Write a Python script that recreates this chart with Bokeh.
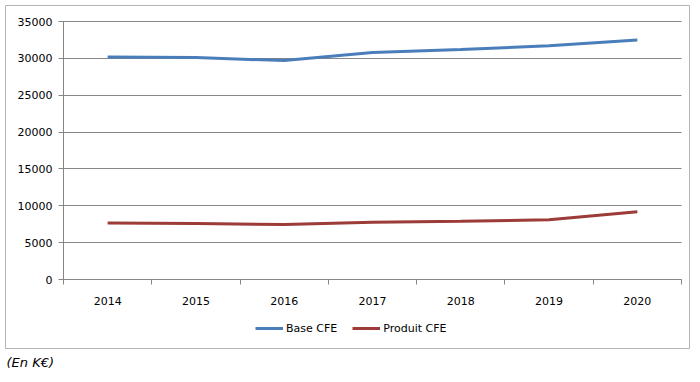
from bokeh.plotting import figure
from bokeh.models import (FixedTicker, Range1d, Legend, LegendItem, Title,
                          NumeralTickFormatter)
from bokeh.embed import file_html
from bokeh.resources import INLINE

years = ["2014", "2015", "2016", "2017", "2018", "2019", "2020"]
base_cfe = [30200, 30100, 29700, 30800, 31200, 31700, 32500]
produit_cfe = [7650, 7600, 7450, 7750, 7900, 8100, 9200]
y_ticks = [0, 5000, 10000, 15000, 20000, 25000, 30000, 35000]

FONT = "DejaVu Sans"
GRID = "#868686"
BOX = "#b4b4b4"

# layout (pixels): outer box = frame, inner plot area inside it
W, H = 700, 382
BOX_L, BOX_T, BOX_R, BOX_B = 5, 5, 689, 348
PL, PT, PR, PB = 63, 21, 681, 279

n = len(years)
x = list(range(n))
ymin, ymax = y_ticks[0], y_ticks[-1]
px_per_cat = (PR - PL) / n
px_per_val = (PB - PT) / (ymax - ymin)
x_start = -0.5 - (PL - BOX_L) / px_per_cat
x_end = n - 0.5 + (BOX_R - PR) / px_per_cat
y_start = ymin - (BOX_B - PB) / px_per_val
y_end = ymax + (PT - BOX_T) / px_per_val

p = figure(width=W, height=H, output_backend="svg", toolbar_location=None,
           x_range=Range1d(x_start, x_end), y_range=Range1d(y_start, y_end),
           min_border_left=BOX_L, min_border_right=W - BOX_R,
           min_border_top=BOX_T, min_border_bottom=H - BOX_B)
p.outline_line_color = BOX
p.outline_line_width = 1
p.background_fill_color = "white"
p.border_fill_color = "white"
p.xgrid.visible = False
p.ygrid.visible = False

r1 = p.line(x, base_cfe, line_color="#4a7ebb", line_width=3)
r2 = p.line(x, produit_cfe, line_color="#9c3b38", line_width=3)

xa = p.xaxis[0]
xa.fixed_location = ymin
xa.bounds = (-0.5, n - 0.5)
xa.ticker = FixedTicker(ticks=x, minor_ticks=[i - 0.5 for i in range(n + 1)])
xa.major_label_overrides = {i: y for i, y in enumerate(years)}
xa.major_tick_line_color = None
xa.major_tick_out = 0
xa.major_tick_in = 0
xa.minor_tick_out = 5
xa.minor_tick_in = 0
xa.minor_tick_line_color = GRID
xa.axis_line_color = GRID
xa.major_label_standoff = 12
xa.major_label_text_font = FONT
xa.major_label_text_font_size = "11px"
xa.major_label_text_color = "black"

ya = p.yaxis[0]
ya.level = "underlay"        # keep the gridline-ticks under the series lines
ya.fixed_location = -0.5
ya.bounds = (ymin, ymax)
ya.ticker = FixedTicker(ticks=y_ticks)
ya.formatter = NumeralTickFormatter(format="0")
ya.major_tick_out = 5
ya.major_tick_in = PR - PL   # ticks drawn across the plot act as gridlines
ya.major_tick_line_color = GRID
ya.minor_tick_line_color = None
ya.axis_line_color = GRID
ya.major_label_standoff = 6
ya.major_label_text_font = FONT
ya.major_label_text_font_size = "11px"
ya.major_label_text_color = "black"

legend = Legend(items=[LegendItem(label="Base CFE", renderers=[r1]),
                       LegendItem(label="Produit CFE", renderers=[r2])],
                orientation="horizontal", location=(250, 13),
                border_line_color=None, background_fill_alpha=0,
                padding=0, margin=0, spacing=15, label_standoff=3,
                glyph_width=28, glyph_height=14, label_height=14,
                label_text_font=FONT, label_text_font_size="11px",
                label_text_color="black")
p.add_layout(legend)

note = Title(text="(En K€)", align="left", offset=1, standoff=8,
             text_font=FONT, text_font_style="italic", text_font_size="13px",
             text_color="black")
p.add_layout(note, "below")

open("out.html", "w").write(file_html(p, INLINE))
